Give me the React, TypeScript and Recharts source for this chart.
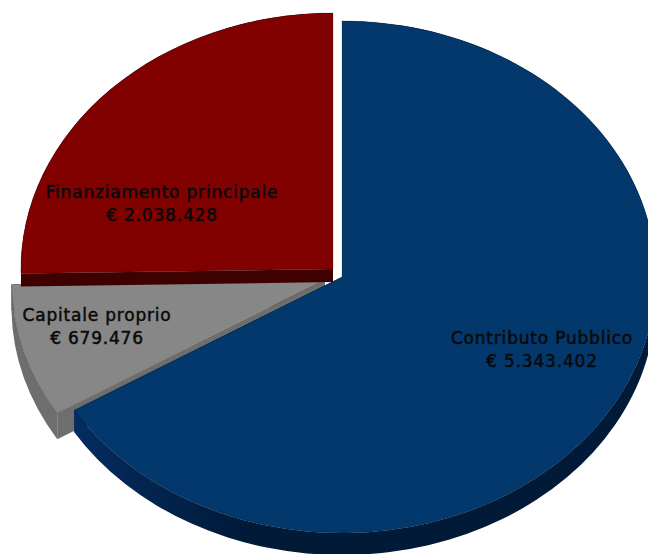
import { Pie, PieChart } from 'recharts'

// Pie is listed clockwise starting from the lower left, so the large slice paints last
const categories = ['Capitale proprio', 'Finanziamento principale', 'Contributo Pubblico']
const amounts = [679476, 2038428, 5343402]

const colors = ['#878787', '#810101', '#03386d']
const sideColors = ['#6e6e6e', '#3f0000', 'url(#blueWall)']

// explosion of each slice, height of its side wall, width/height ratio of its ellipse
const shifts = [
  { x: -17, y: 3, depth: 26, stretch: 1.225 },
  { x: -9, y: -8, depth: 13, stretch: 1.219 },
  { x: 0, y: 0, depth: 22, stretch: 1.225 },
]
const labelPositions = [
  { x: 97, y: 321 },
  { x: 162, y: 198 },
  { x: 542, y: 344 },
]

const data = categories.map((name, i) => ({ name, value: amounts[i] }))
const total = amounts.reduce((a, b) => a + b, 0)
const firstAngle = 90 - (amounts[2] / total) * 360

const RAD = Math.PI / 180

const euro = (v: number) => '€ ' + String(v).replace(/\B(?=(\d{3})+$)/g, '.')

function TiltedSlice(props: any) {
  const { cx, cy, outerRadius, startAngle, endAngle, index } = props
  const s = shifts[index]
  const rx = outerRadius * s.stretch
  const ox = cx + s.x
  const oy = cy + s.y
  const px = (a: number) => ox + rx * Math.cos(a * RAD)
  const py = (a: number) => oy - outerRadius * Math.sin(a * RAD)
  const large = Math.abs(endAngle - startAngle) > 180 ? 1 : 0
  const arc = `A${rx},${outerRadius} 0 ${large} 1`
  const arcBack = `A${rx},${outerRadius} 0 ${large} 0`

  const face = `M${ox},${oy} L${px(startAngle)},${py(startAngle)} ${arc} ${px(endAngle)},${py(endAngle)} Z`
  const rim =
    `M${px(startAngle)},${py(startAngle)} ${arc} ${px(endAngle)},${py(endAngle)} ` +
    `L${px(endAngle)},${py(endAngle) + s.depth} ` +
    `${arcBack} ${px(startAngle)},${py(startAngle) + s.depth} Z`
  const wall = (a: number) =>
    `M${ox},${oy} L${px(a)},${py(a)} L${px(a)},${py(a) + s.depth} L${ox},${oy + s.depth} Z`

  return (
    <g>
      <defs>
        <linearGradient id="blueWall" gradientUnits="userSpaceOnUse" x1="70" y1="0" x2="250" y2="0">
          <stop offset="0" stopColor="#042d60" />
          <stop offset="1" stopColor="#001a38" />
        </linearGradient>
      </defs>
      <path d={wall(startAngle)} fill={sideColors[index]} />
      <path d={wall(endAngle)} fill={sideColors[index]} />
      <path d={rim} fill={sideColors[index]} />
      <path d={face} fill={colors[index]} stroke="rgba(0,0,0,0.3)" strokeWidth={0.7} />
    </g>
  )
}

function SliceLabel(props: any) {
  const { index, name, value } = props
  const pos = labelPositions[index]
  return (
    <text
      x={pos.x}
      y={pos.y}
      textAnchor="middle"
      fontFamily="'DejaVu Sans', sans-serif"
      fontSize={17}
      letterSpacing={0.8}
      fill="#0a0a0a"
      stroke="#0a0a0a"
      strokeWidth={0.5}
    >
      <tspan x={pos.x}>{name}</tspan>
      <tspan x={pos.x} dy={23}>{euro(value)}</tspan>
    </text>
  )
}

export default function App() {
  return (
    <div style={{ position: 'absolute', left: 0, top: 0, width: 648, height: 554, overflow: 'hidden', background: '#fff' }}>
      <PieChart width={648} height={554} margin={{ top: 0, right: 0, bottom: 0, left: 0 }}>
        <Pie
          data={data}
          dataKey="value"
          nameKey="name"
          cx={342}
          cy={277}
          innerRadius={0}
          outerRadius={256}
          startAngle={firstAngle}
          endAngle={firstAngle - 360}
          paddingAngle={0}
          stroke="none"
          shape={TiltedSlice}
          label={SliceLabel}
          labelLine={false}
          isAnimationActive={false}
        />
      </PieChart>
    </div>
  )
}
